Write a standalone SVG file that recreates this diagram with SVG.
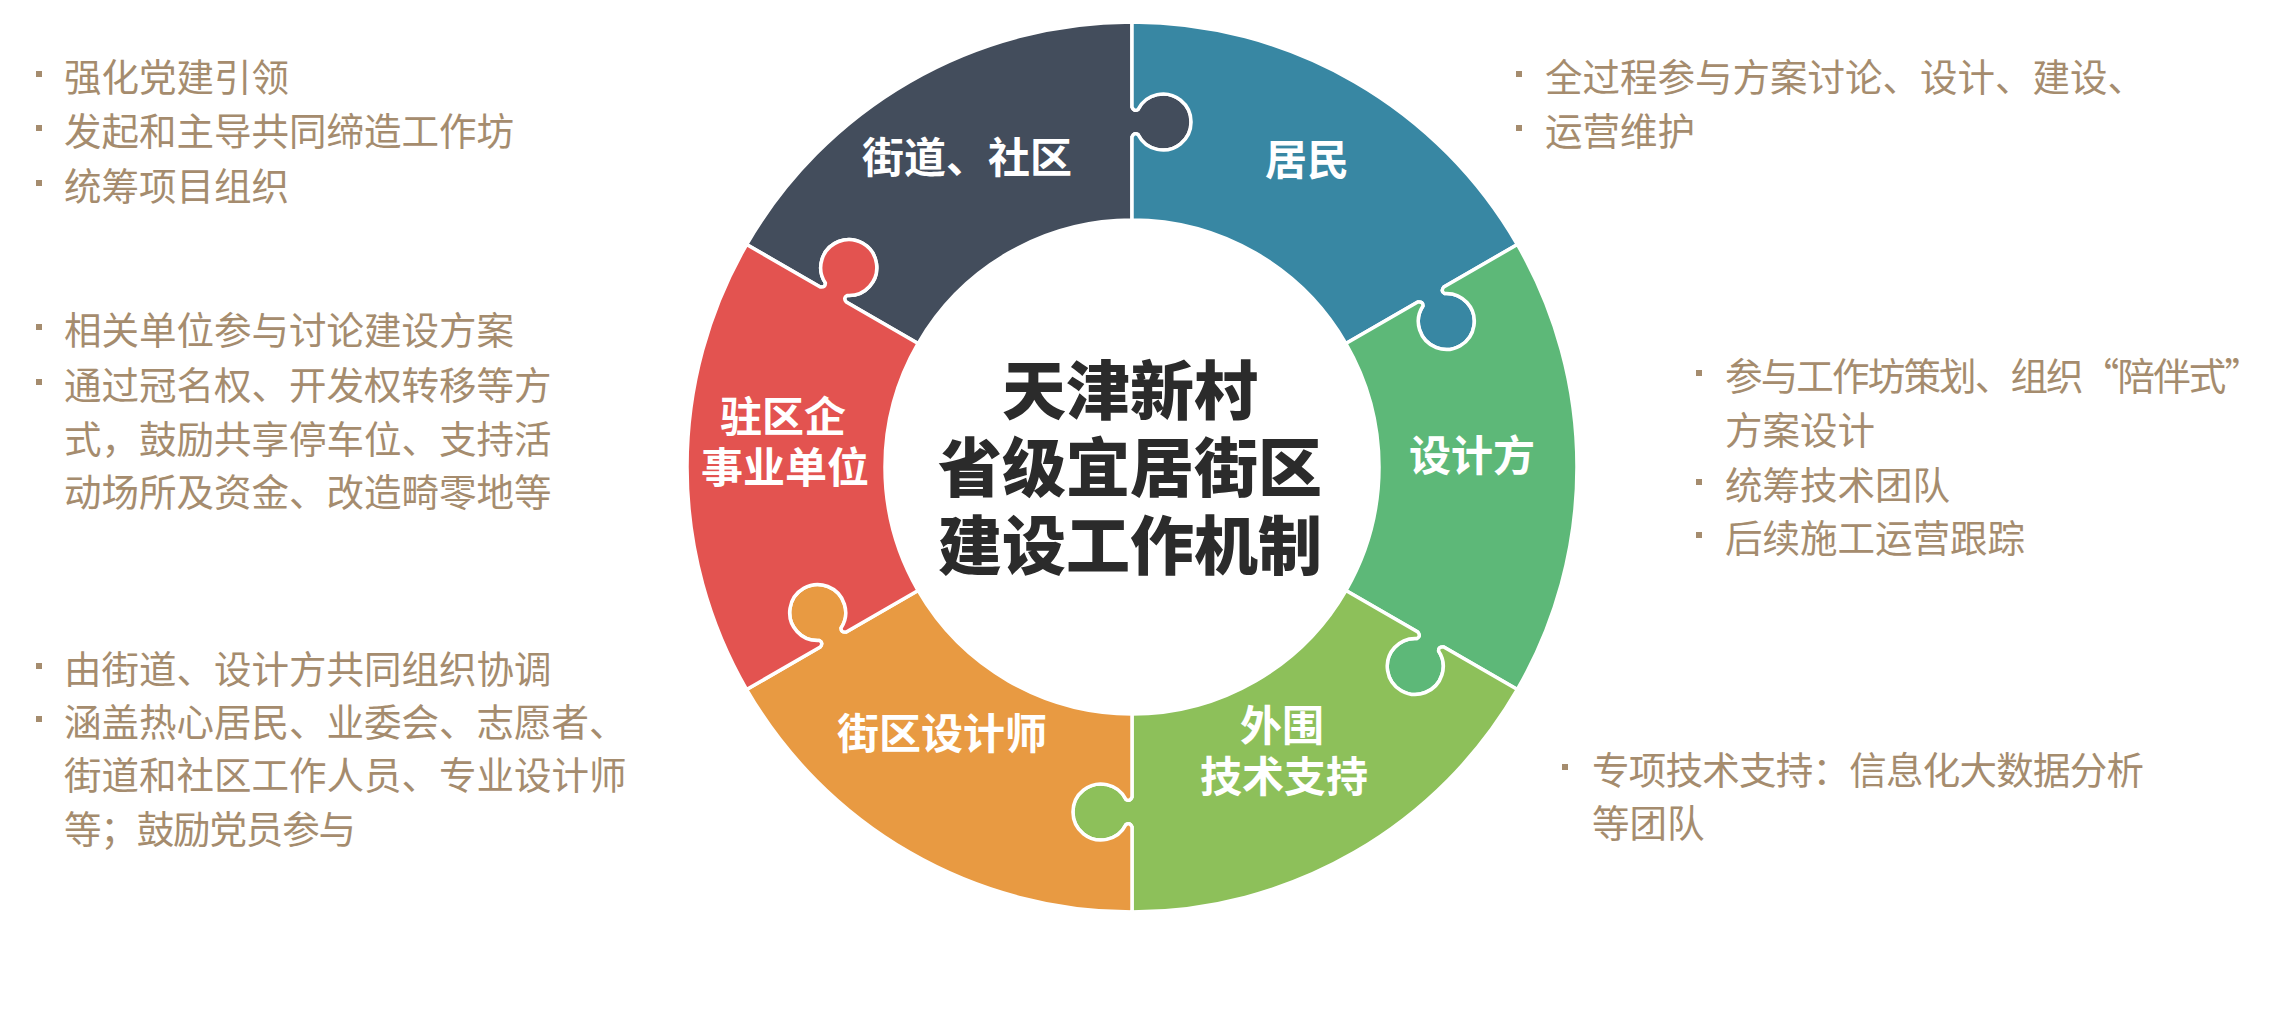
<svg xmlns="http://www.w3.org/2000/svg" xmlns:xlink="http://www.w3.org/1999/xlink" width="2289" height="1014" viewBox="0 0 2289 1014">
  <style>
    .piece { stroke: #ffffff; stroke-width: 3.5; stroke-linejoin: round; }
    .lbl { font-family: "Noto Sans CJK SC", "Noto Sans", sans-serif; font-weight: 700; font-size: 42px; fill: #ffffff; text-anchor: middle; dominant-baseline: central; }
    .title { font-family: "Noto Sans CJK SC", "Noto Sans", sans-serif; font-weight: 900; font-size: 64px; fill: #2b2b2b; text-anchor: middle; dominant-baseline: central; }
    .note { font-family: "Noto Sans CJK SC", "Noto Sans", sans-serif; font-weight: 400; font-size: 37.5px; fill: #a58c6e; dominant-baseline: central; }
    .dot { fill: #a58c6e; }
  </style>
  <defs>
    <path id="pz" d="M 247 0 L 330 0 Q 335 2 332.5 6 A 28 28 0 1 0 357.5 6 Q 355 2 360 0 L 445 0 A 445 445 0 0 1 222.5 385.37 L 180 311.77 Q 175.77 308.43 173.55 312.6 A 28 28 0 1 1 161.05 290.95 Q 165.77 291.12 165 285.79 L 123.5 213.91 A 247 247 0 0 0 247 0 Z"/>
  </defs>
  <rect width="2289" height="1014" fill="#ffffff"/>

  <g id="node-jiedao">
    <use xlink:href="#pz" href="#pz" class="piece" fill="#434d5c" transform="translate(1132 467) rotate(210)"/>
    <text class="lbl" x="967" y="154">街道、社区</text>
  </g>
  <g id="node-jumin">
    <use xlink:href="#pz" href="#pz" class="piece" fill="#3887a3" transform="translate(1132 467) rotate(-90)"/>
    <text class="lbl" x="1307" y="156">居民</text>
  </g>
  <g id="node-shejifang">
    <use xlink:href="#pz" href="#pz" class="piece" fill="#5db878" transform="translate(1132 467) rotate(-30)"/>
    <text class="lbl" x="1472" y="452">设计方</text>
  </g>
  <g id="node-waiwei">
    <use xlink:href="#pz" href="#pz" class="piece" fill="#8dc05a" transform="translate(1132 467) rotate(30)"/>
    <text class="lbl"><tspan x="1282" y="722">外围</tspan><tspan x="1284" y="773">技术支持</tspan></text>
  </g>
  <g id="node-jiequ">
    <use xlink:href="#pz" href="#pz" class="piece" fill="#e89a42" transform="translate(1132 467) rotate(90)"/>
    <text class="lbl" x="942" y="730">街区设计师</text>
  </g>
  <g id="node-qiye">
    <use xlink:href="#pz" href="#pz" class="piece" fill="#e35350" transform="translate(1132 467) rotate(150)"/>
    <text class="lbl"><tspan x="783" y="413">驻区企</tspan><tspan x="785" y="464">事业单位</tspan></text>
  </g>

  <g id="node-center">
    <text class="title"><tspan x="1130" y="386">天津新村</tspan><tspan x="1130" y="463">省级宜居街区</tspan><tspan x="1130" y="541">建设工作机制</tspan></text>
  </g>

  <g id="note-jiedao">
    <rect class="dot" x="36" y="71" width="6" height="6"/>
    <rect class="dot" x="36" y="125" width="6" height="6"/>
    <rect class="dot" x="36" y="180" width="6" height="6"/>
    <text class="note" x="64" y="74">强化党建引领</text>
    <text class="note" x="64" y="128">发起和主导共同缔造工作坊</text>
    <text class="note" x="64" y="183">统筹项目组织</text>
  </g>
  <g id="note-qiye">
    <rect class="dot" x="36" y="324" width="6" height="6"/>
    <rect class="dot" x="36" y="379" width="6" height="6"/>
    <text class="note" x="64" y="327">相关单位参与讨论建设方案</text>
    <text class="note" x="64" y="382">通过冠名权、开发权转移等方</text>
    <text class="note" x="64" y="436">式，鼓励共享停车位、支持活</text>
    <text class="note" x="64" y="489">动场所及资金、改造畸零地等</text>
  </g>
  <g id="note-jiequ">
    <rect class="dot" x="36" y="663" width="6" height="6"/>
    <rect class="dot" x="36" y="716" width="6" height="6"/>
    <text class="note" x="64" y="666">由街道、设计方共同组织协调</text>
    <text class="note" x="64" y="719">涵盖热心居民、业委会、志愿者、</text>
    <text class="note" x="64" y="772">街道和社区工作人员、专业设计师</text>
    <text class="note" x="64" y="826" textLength="292" lengthAdjust="spacing">等；鼓励党员参与</text>
  </g>
  <g id="note-jumin">
    <rect class="dot" x="1516" y="71" width="6" height="6"/>
    <rect class="dot" x="1516" y="125" width="6" height="6"/>
    <text class="note" x="1545" y="74">全过程参与方案讨论、设计、建设、</text>
    <text class="note" x="1545" y="128">运营维护</text>
  </g>
  <g id="note-shejifang">
    <rect class="dot" x="1696" y="370" width="6" height="6"/>
    <rect class="dot" x="1696" y="479" width="6" height="6"/>
    <rect class="dot" x="1696" y="532" width="6" height="6"/>
    <text class="note" x="1725" y="373" textLength="537" lengthAdjust="spacing">参与工作坊策划、组织“陪伴式”</text>
    <text class="note" x="1725" y="427">方案设计</text>
    <text class="note" x="1725" y="482">统筹技术团队</text>
    <text class="note" x="1725" y="535">后续施工运营跟踪</text>
  </g>
  <g id="note-waiwei">
    <rect class="dot" x="1562" y="764" width="6" height="6"/>
    <text class="note" x="1592" y="767" textLength="552" lengthAdjust="spacing">专项技术支持：信息化大数据分析</text>
    <text class="note" x="1592" y="820">等团队</text>
  </g>
</svg>
